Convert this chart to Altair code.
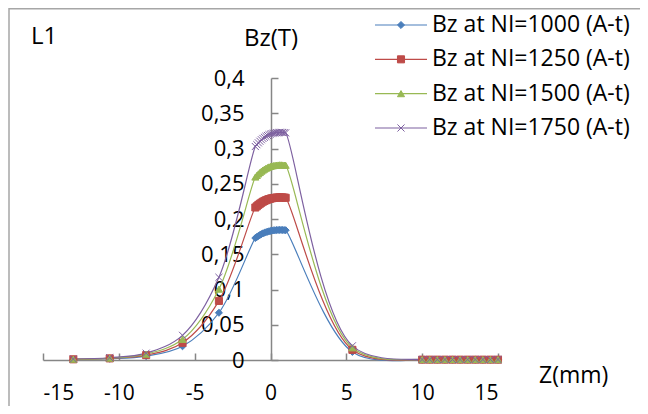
import altair as alt
import pandas as pd

# ---------------- data ----------------
z_values = [-13.0, -10.6, -8.2, -5.8, -3.4,
            -1.0, -0.9, -0.8, -0.7, -0.6, -0.5, -0.4, -0.3, -0.2, -0.1, 0.0,
            0.1, 0.2, 0.3, 0.4, 0.5, 0.6, 0.7, 0.8, 0.9, 1.0,
            5.4,
            10.0, 10.5, 11.0, 11.5, 12.0, 12.5, 13.0, 13.5, 14.0, 14.5, 15.0]

bz_1000 = [0.0008, 0.0018, 0.0055, 0.0195, 0.0670,
           0.1730, 0.1745, 0.1760, 0.1773, 0.1785, 0.1796, 0.1805, 0.1813, 0.1820, 0.1826, 0.1831,
           0.1835, 0.1838, 0.1841, 0.1843, 0.1844, 0.1845, 0.1845, 0.1844, 0.1843, 0.1841,
           0.0115,
           0.0004, 0.0004, 0.0004, 0.0004, 0.0004, 0.0004, 0.0004, 0.0004, 0.0004, 0.0004, 0.0004]

bz_1250 = [0.0010, 0.0023, 0.0069, 0.0244, 0.0838,
           0.2163, 0.2181, 0.2200, 0.2216, 0.2231, 0.2245, 0.2256, 0.2266, 0.2275, 0.2283, 0.2289,
           0.2294, 0.2298, 0.2301, 0.2304, 0.2305, 0.2306, 0.2306, 0.2305, 0.2304, 0.2301,
           0.0144,
           0.0005, 0.0005, 0.0005, 0.0005, 0.0005, 0.0005, 0.0005, 0.0005, 0.0005, 0.0005, 0.0005]

bz_1500 = [0.0012, 0.0027, 0.0083, 0.0293, 0.1005,
           0.2595, 0.2618, 0.2640, 0.2660, 0.2678, 0.2694, 0.2708, 0.2720, 0.2730, 0.2739, 0.2747,
           0.2753, 0.2757, 0.2762, 0.2765, 0.2766, 0.2768, 0.2768, 0.2766, 0.2765, 0.2762,
           0.0173,
           0.0006, 0.0006, 0.0006, 0.0006, 0.0006, 0.0006, 0.0006, 0.0006, 0.0006, 0.0006, 0.0006]

bz_1750 = [0.0014, 0.0032, 0.0097, 0.0350, 0.1173,
           0.3028, 0.3054, 0.3080, 0.3103, 0.3124, 0.3143, 0.3159, 0.3173, 0.3185, 0.3196, 0.3204,
           0.3211, 0.3217, 0.3222, 0.3225, 0.3227, 0.3229, 0.3229, 0.3227, 0.3225, 0.3222,
           0.0201,
           0.0007, 0.0007, 0.0007, 0.0007, 0.0007, 0.0007, 0.0007, 0.0007, 0.0007, 0.0007, 0.0007]

series_names = ["Bz at NI=1000 (A-t)", "Bz at NI=1250 (A-t)",
                "Bz at NI=1500 (A-t)", "Bz at NI=1750 (A-t)"]
series_values = [bz_1000, bz_1250, bz_1500, bz_1750]
colors = ["#4A7EBB", "#BE4B48", "#98B954", "#7D60A0"]
shapes = ["diamond", "square", "triangle-up", "M-1,-1L1,1M1,-1L-1,1"]

x_ticks = [-15, -10, -5, 0, 5, 10, 15]
y_ticks = [0, 0.05, 0.1, 0.15, 0.2, 0.25, 0.3, 0.35, 0.4]
annotations = ["L1", "Bz(T)", "Z(mm)"]

# ---------------- build table ----------------
rows = []
for name, vals in zip(series_names, series_values):
    for zz, v in zip(z_values, vals):
        rows.append({"series": name, "z": zz, "bz": v})
df = pd.DataFrame(rows)
leg_df = pd.DataFrame({"series": series_names, "row": list(range(len(series_names)))})

FONT = "Open Sans"
GRAY = "#868686"
W, H = 455, 282
Y_AXIS_X = 228  # pixel position of z = 0 inside the plot

x_scale = alt.Scale(domain=[-15, 15], nice=False, zero=False)
y_scale = alt.Scale(domain=[0, 0.4], nice=False, zero=False)
col_scale = alt.Scale(domain=series_names, range=colors)
shape_scale = alt.Scale(domain=series_names, range=shapes)

label_expr_y = "replace(format(datum.value, '.2~f'), '.', ',')"

line = alt.Chart(df).mark_line(strokeWidth=1.2, interpolate="catmull-rom").encode(
    x=alt.X("z:Q", scale=x_scale,
            axis=alt.Axis(orient="bottom", values=x_ticks, labelExpr="'' + datum.value",
                          tickSize=0, ticks=False, labelPadding=39,
                          labelBaseline="alphabetic", domain=True,
                          domainColor=GRAY, domainWidth=1.5, grid=False, title=None,
                          labelFont=FONT, labelFontSize=21, labelColor="black")),
    y=alt.Y("bz:Q", scale=y_scale,
            axis=alt.Axis(orient="left", offset=-Y_AXIS_X, values=y_ticks,
                          labelExpr=label_expr_y, tickSize=0, ticks=False,
                          labelPadding=27, domain=False, grid=False, title=None,
                          labelFont=FONT, labelFontSize=22, labelColor="black")),
    stroke=alt.Stroke("series:N", scale=col_scale, legend=None),
)

points = alt.Chart(df).mark_point(filled=True, size=50, strokeWidth=1, opacity=1).encode(
    x=alt.X("z:Q", scale=x_scale,
            axis=alt.Axis(orient="top", offset=-H, values=x_ticks, labels=False,
                          tickSize=7, tickColor=GRAY, tickWidth=1.5, domain=False,
                          grid=False, title=None)),
    y=alt.Y("bz:Q", scale=y_scale,
            axis=alt.Axis(orient="right", offset=-(W - Y_AXIS_X), values=y_ticks,
                          labels=False, tickSize=7, tickColor=GRAY, tickWidth=1.5,
                          domain=True, domainColor=GRAY, domainWidth=1.5,
                          grid=False, title=None)),
    fill=alt.Fill("series:N", scale=col_scale, legend=None),
    stroke=alt.Stroke("series:N", scale=col_scale, legend=None),
    shape=alt.Shape("series:N", scale=shape_scale, legend=None),
)

leg_y = alt.Y("row:Q", scale=alt.Scale(domain=[0, 3], range=[-53, 50], nice=False, zero=False),
              axis=None)

leg_rule = alt.Chart(leg_df).mark_rule(strokeWidth=1.2).encode(
    x=alt.value(332), x2=alt.value(384), y=leg_y,
    stroke=alt.Stroke("series:N", scale=col_scale, legend=None),
)
leg_pt = alt.Chart(leg_df).mark_point(filled=True, size=50, strokeWidth=1, opacity=1).encode(
    x=alt.value(358), y=leg_y,
    fill=alt.Fill("series:N", scale=col_scale, legend=None),
    stroke=alt.Stroke("series:N", scale=col_scale, legend=None),
    shape=alt.Shape("series:N", scale=shape_scale, legend=None),
)
leg_txt = alt.Chart(leg_df).mark_text(align="left", baseline="middle", font=FONT,
                                      fontSize=23, color="black").encode(
    x=alt.value(389), y=leg_y, text="series:N",
)
legend = alt.layer(leg_rule, leg_pt, leg_txt)

def label(txt, x, y, align, size):
    return alt.Chart(pd.DataFrame({"t": [txt]})).mark_text(
        align=align, baseline="alphabetic", font=FONT, fontSize=size, color="black"
    ).encode(x=alt.value(x), y=alt.value(y), text="t:N")

t_l1 = label(annotations[0], -12, -34, "left", 24)
t_bz = label(annotations[1], Y_AXIS_X, -32, "center", 24)
t_z = label(annotations[2], 496, 305, "left", 23)

frame_df = pd.DataFrame({"d": [0]})
frame_left = alt.Chart(frame_df).mark_rule(color="#A6A6A6", strokeWidth=1.5).encode(
    x=alt.value(-34), y=alt.value(-70), y2=alt.value(330))
frame_top = alt.Chart(frame_df).mark_rule(color="#A6A6A6", strokeWidth=1.5).encode(
    x=alt.value(-34), x2=alt.value(597), y=alt.value(-69.2))

chart = alt.layer(
    line, points, legend, t_l1, t_bz, t_z, frame_left, frame_top
).resolve_scale(
    y="independent"
).resolve_axis(
    x="independent", y="independent"
).properties(
    width=W, height=H,
    autosize=alt.AutoSizeParams(type="none"),
    padding={"left": 35, "top": 70, "right": 142, "bottom": 46},
    background="white",
).configure_view(stroke=None)

chart.save("out.html", embed_options={"renderer": "svg", "actions": False})
